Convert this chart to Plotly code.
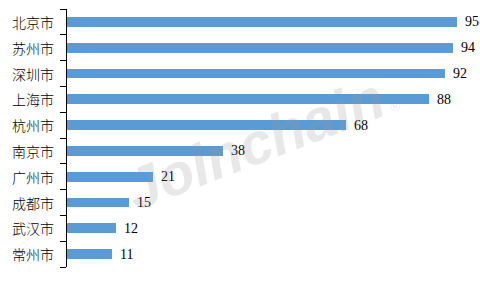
import plotly.graph_objects as go

cities = ["北京市", "苏州市", "深圳市", "上海市", "杭州市", "南京市", "广州市", "成都市", "武汉市", "常州市"]
values = [95, 94, 92, 88, 68, 38, 21, 15, 12, 11]

fig = go.Figure()
fig.add_trace(go.Bar(
    x=values, y=cities, orientation="h",
    marker=dict(color="#5B9BD5", line=dict(width=0)),
    width=0.38,
))

for c, v in zip(cities, values):
    fig.add_annotation(
        x=v, y=c, text=str(v), showarrow=False,
        xanchor="left", yanchor="middle", xshift=6,
        font=dict(family="Liberation Serif", size=14, color="#000000"),
    )

fig.add_annotation(
    xref="paper", yref="paper", x=0.475, y=0.49,
    text="<b><i>Joinchain</i></b><span style='font-size:14px'> ®</span>", showarrow=False,
    textangle=-21,
    font=dict(family="Liberation Sans", size=58, color="rgba(150,150,150,0.22)"),
)

fig.update_layout(
    width=480, height=288,
    margin=dict(l=67, r=2, t=9, b=21),
    paper_bgcolor="white", plot_bgcolor="white",
    showlegend=False,
    bargap=0,
    xaxis=dict(range=[0, 100], visible=False, showgrid=False, zeroline=False),
    yaxis=dict(
        autorange="reversed",
        showline=True, linecolor="#000000", linewidth=1,
        ticks="outside", ticklen=6, tickcolor="#000000", tickwidth=1,
        tickmode="array", tickvals=[i - 0.5 for i in range(11)], ticktext=[""] * 11,
        showgrid=False, zeroline=False,
    ),
)

# category labels at category centers
for c in cities:
    fig.add_annotation(
        xref="paper", x=0, y=c, text=c, showarrow=False,
        xanchor="right", yanchor="middle", xshift=-11,
        font=dict(family="Noto Sans CJK SC", size=14, color="#000000", weight=300),
    )

fig.write_html("out.html")
